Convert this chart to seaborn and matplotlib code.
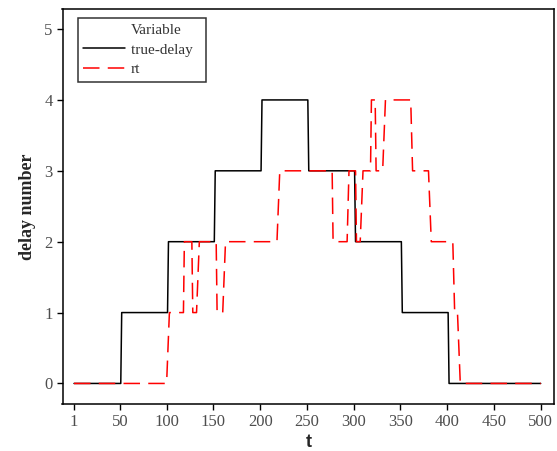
import numpy as np
import pandas as pd
import matplotlib
matplotlib.use("Agg")
import matplotlib.pyplot as plt
from matplotlib.lines import Line2D
import seaborn as sns

# ---- data ----
true_t = [1, 51, 52, 101, 102, 151, 152, 201, 202, 251, 252, 301, 302, 351, 352, 401, 402, 500]
true_v = [0, 0, 1, 1, 2, 2, 3, 3, 4, 4, 3, 3, 2, 2, 1, 1, 0, 0]

rt_t = [1, 100, 103, 118, 119, 127, 128, 132, 135, 153, 154, 160, 163, 218, 221,
        277, 278, 293, 295, 302, 303, 307, 310, 318, 319, 323, 324, 331, 334,
        361, 363, 380, 383, 406, 408, 411, 414, 500]
rt_v = [0, 0, 1, 1, 2, 2, 1, 1, 2, 2, 1, 1, 2, 2, 3,
        3, 2, 2, 3, 3, 2, 2, 3, 3, 4, 4, 3, 3, 4,
        4, 3, 3, 2, 2, 1, 1, 0, 0]

x_ticks = [1, 50, 100, 150, 200, 250, 300, 350, 400, 450, 500]
y_ticks = [0, 1, 2, 3, 4, 5]
series = ["true-delay", "rt"]

df = pd.concat([
    pd.DataFrame({"t": true_t, "value": true_v, "Variable": series[0]}),
    pd.DataFrame({"t": rt_t, "value": rt_v, "Variable": series[1]}),
], ignore_index=True)

sns.set_theme(style="ticks")
plt.rcParams["font.family"] = ["Liberation Serif", "DejaVu Serif"]

fig = plt.figure(figsize=(5.57, 4.51), dpi=100)
ax = fig.add_axes([62.5 / 557, 47 / 451, (554 - 62.5) / 557, (404 - 8.5) / 451])

palette = {"true-delay": "#000000", "rt": "#FF0000"}
dashes = {"true-delay": "", "rt": (10.8, 5.4)}
sns.lineplot(data=df, x="t", y="value", hue="Variable", style="Variable",
             palette=palette, dashes=dashes, estimator=None, sort=False,
             linewidth=1.1, legend=False, ax=ax)

ax.set_xlim(-11.3, 514.2)
ax.set_ylim(-0.29, 5.29)
ax.set_xticks(x_ticks)
ax.set_xticklabels([str(v) for v in x_ticks])
ax.set_yticks(y_ticks)
ax.set_yticklabels([str(v) for v in y_ticks])
ax.tick_params(axis="both", direction="out", length=4, width=1, color="black",
               labelsize=12, labelcolor="#4d4d4d", pad=3)
for s in ax.spines.values():
    s.set_visible(True)
    s.set_color("black")
    s.set_linewidth(1.1)

ax.set_xlabel("t", fontsize=13, fontweight="bold", family=["Liberation Sans"], labelpad=3)
ax.set_ylabel("delay number", fontsize=13, fontweight="bold", labelpad=6)

handles = [
    Line2D([], [], color="none", label="Variable"),
    Line2D([], [], color="black", lw=1.1, label="true-delay  "),
    Line2D([], [], color="#FF0000", lw=1.1, linestyle=(0, (10.8, 5.4)), label="rt"),
]
leg = ax.legend(handles=handles, loc="upper left", bbox_to_anchor=(15.5 / 491.5, 1 - 9.2 / 395.5),
                frameon=True, fancybox=False, edgecolor="black", fontsize=11,
                handlelength=2.75, handletextpad=0.35, labelspacing=0.4,
                borderpad=0.35, borderaxespad=0)
leg.get_frame().set_linewidth(1.1)
for txt in leg.get_texts():
    txt.set_color("#333333")

fig.savefig("out.png", dpi=100, facecolor="white")
